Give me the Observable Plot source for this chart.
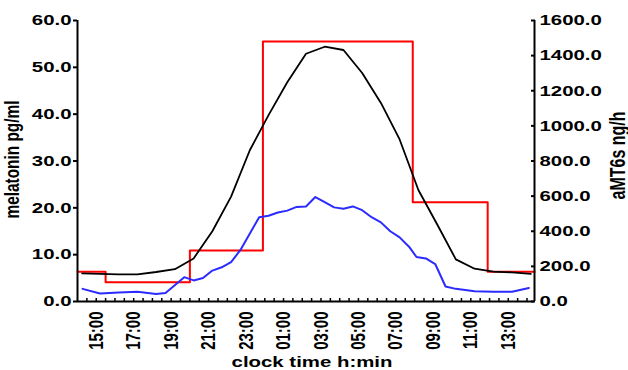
<!DOCTYPE html>
<html>
<head>
<meta charset="utf-8">
<script src="https://cdn.jsdelivr.net/npm/d3@7"></script>
<script src="https://cdn.jsdelivr.net/npm/@observablehq/plot@0.6"></script>
<style>
  html, body { margin: 0; padding: 0; background: #fff; }
  #chart { width: 628px; height: 370px; overflow: hidden; }
</style>
</head>
<body>
<div id="chart"></div>
<script>
// x values are hours elapsed since 14:00 clock time
const plasmaHours = [0.25, 1.2, 2.2, 3.2, 4.2, 5.2, 6.2, 7.2, 8.2, 9.2, 10.2, 11.2, 12.2, 13.2, 14.2, 15.2, 16.2, 17.2, 18.2, 19.2, 20.2, 21.2, 22.2, 23.2, 24.2];
const plasmaMelatonin = [6.0, 5.9, 5.8, 5.8, 6.3, 6.9, 9.2, 15.0, 22.4, 32.3, 39.8, 46.8, 52.9, 54.4, 53.7, 48.8, 42.4, 34.6, 23.8, 16.5, 9.0, 7.0, 6.4, 6.2, 5.9];

const salivaHours = [0.27, 1.2, 2.2, 3.2, 4.2, 4.7, 5.7, 6.2, 6.7, 7.2, 7.7, 8.2, 8.7, 9.7, 10.2, 10.7, 11.2, 11.7, 12.2, 12.7, 13.2, 13.7, 14.2, 14.7, 15.2, 15.7, 16.2, 16.7, 17.2, 17.7, 18.1, 18.6, 19.1, 19.65, 20.2, 21.2, 22.2, 23.2, 24.1];
const salivaMelatonin = [2.7, 1.7, 1.9, 2.1, 1.6, 1.8, 5.2, 4.5, 5.0, 6.6, 7.3, 8.4, 11.0, 18.0, 18.3, 19.0, 19.4, 20.2, 20.3, 22.3, 21.2, 20.1, 19.8, 20.3, 19.5, 18.0, 16.9, 15.0, 13.7, 11.7, 9.5, 9.2, 8.0, 3.2, 2.7, 2.2, 2.1, 2.1, 2.9];

const urineStartHours = [0, 1.5, 6.0, 9.9, 17.9, 21.9, 24.4];
const urineAMT6s = [170, 110, 290, 1480, 565, 170, 170]; // ng/h

const leftTicks = [0, 10, 20, 30, 40, 50, 60];
const rightTicks = [0, 200, 400, 600, 800, 1000, 1200, 1400, 1600];
const xLabelHours = [1, 3, 5, 7, 9, 11, 13, 15, 17, 19, 21, 23];
const xMinorHours = d3.range(0.5, 24.01, 0.5);

const xMax = 24.4;
const k = 60 / 1600; // ng/h -> pg/ml axis units

const plasma = plasmaHours.map((h, i) => ({h, v: plasmaMelatonin[i]}));
const saliva = salivaHours.map((h, i) => ({h, v: salivaMelatonin[i]}));
const urine = urineStartHours.map((h, i) => ({h, v: urineAMT6s[i] * k}));

const fmtClock = h => String((14 + h) % 24).padStart(2, "0") + ":00";

const chart = Plot.plot({
  width: 628,
  height: 370,
  marginLeft: 77,
  marginRight: 94,
  marginTop: 20,
  marginBottom: 69,
  style: {fontFamily: "'Liberation Sans', Arial, sans-serif", fontSize: "15px", fontWeight: "bold", color: "#000", background: "#fff"},
  x: {type: "linear", domain: [0, xMax]},
  y: {domain: [0, 60]},
  marks: [
    Plot.line(urine, {x: "h", y: "v", curve: "step-after", stroke: "#ff0000", strokeWidth: 2}),
    Plot.line(plasma, {x: "h", y: "v", stroke: "#000", strokeWidth: 1.8}),
    Plot.line(saliva, {x: "h", y: "v", stroke: "#2b2bff", strokeWidth: 2}),
    Plot.axisY({anchor: "left", ticks: leftTicks, tickFormat: d => d.toFixed(1), tickSize: 4, tickPadding: 2, strokeWidth: 2, label: null}),
    Plot.axisY({anchor: "right", ticks: rightTicks.map(v => v * k), tickFormat: d => (d / k).toFixed(1), tickSize: -4, tickPadding: 9, strokeWidth: 2, label: null}),
    Plot.axisX({anchor: "bottom", ticks: xMinorHours, tickFormat: () => "", tickSize: -3, strokeWidth: 1.5, label: null}),
    Plot.axisX({anchor: "bottom", ticks: xLabelHours, tickFormat: fmtClock, tickSize: 0, tickPadding: 10, tickRotate: -90, label: null}),
    Plot.ruleX([0, xMax], {stroke: "#000", strokeWidth: 2}),
    Plot.ruleY([0], {stroke: "#000", strokeWidth: 2}),
    Plot.text(["melatonin pg/ml"], {frameAnchor: "left", textAnchor: "middle", dx: -59, dy: -1.5, rotate: -90, fontSize: 15.4, fontWeight: "bold", fill: "#000", lineAnchor: "bottom"}),
    Plot.text(["aMT6s ng/h"], {frameAnchor: "right", textAnchor: "middle", dx: 90, dy: -5.5, rotate: -90, fontSize: 16, fontWeight: "bold", fill: "#000", lineAnchor: "bottom"}),
    Plot.text(["clock time h:min"], {frameAnchor: "bottom", textAnchor: "middle", dx: 6, dy: 65, fontSize: 15, fontWeight: "bold", fill: "#000", lineAnchor: "bottom"})
  ]
});

// the reference picture is stretched horizontally: widen every glyph in screen x
const S = 1.36;
chart.querySelectorAll("text").forEach(t => {
  const tr = t.getAttribute("transform");
  if (tr && /translate\(/.test(tr)) {
    t.setAttribute("transform", tr.replace(/translate\(([^)]*)\)/, (m) => m + ` scale(${S},1)`));
  } else {
    const x = +(t.getAttribute("x") || 0), y = +(t.getAttribute("y") || 0);
    t.removeAttribute("x"); t.removeAttribute("y");
    t.setAttribute("transform", `translate(${x},${y}) scale(${S},1)` + (tr ? " " + tr : ""));
  }
});

document.getElementById("chart").append(chart);
</script>
</body>
</html>
